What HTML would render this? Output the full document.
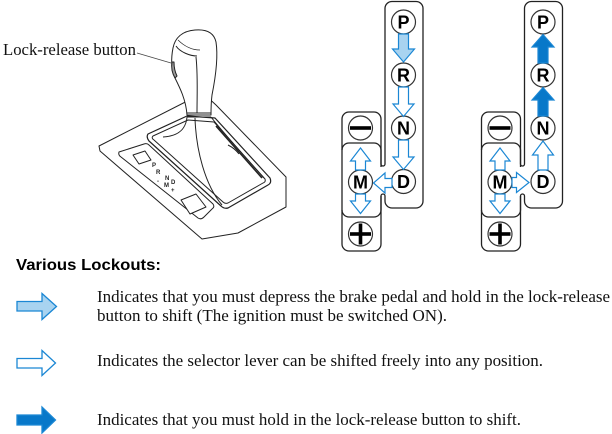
<!DOCTYPE html>
<html><head><meta charset="utf-8"><style>
html,body{margin:0;padding:0;background:#fff;}
svg{display:block;}
.serif{font-family:"Liberation Serif",serif;font-size:16.5px;fill:#111;}
.lt{font-family:"Liberation Sans",sans-serif;font-weight:bold;font-size:18px;fill:#000;}
</style></head><body>
<svg width="612" height="434" viewBox="0 0 612 434" xmlns="http://www.w3.org/2000/svg">
<!-- Shifter illustration -->
<g stroke="#222" stroke-width="1" fill="#fff" stroke-linejoin="round">
  <path d="M99,146 L203,93 L216,105 L286,177 L286,207 L238,233 L202,239 L100,151 Z"/>
  <path d="M119,152 L144,144 Q147,143 149,145 L213,204 Q215,207 212,209 L204,217 Q201,220 198,218 L121,157 Q118,155 119,152 Z"/>
  <path d="M133,155 L145,151 L151,160 L139,164 Z"/>
  <path d="M181,200 L196,194 L206,207 L190,214 Z"/>
  <path d="M148,134 L187,116 L215,118 L270,178 Q272,183 268,185 L228,208 Q224,209 221,206 L149,141 Q146,137 148,134 Z" stroke-width="1.2"/>
  <path d="M153,136 L188,120 L214,122 L265,179 Q266,182 263,183 L228,203 Q225,204 223,202 L154,140 Q151,138 153,136 Z" fill="none"/>
  <path d="M216,126 L262,178" fill="none" stroke-width="1.6"/>
  <path d="M187,117 C186,128 180,136 163,137" fill="none"/>
  <path d="M195,118 C196,150 205,185 222,205" fill="none"/>
  <path d="M211,117 C225,135 248,160 264,178" fill="none"/>
  <path d="M228,145 C232,147 236,150 239,154" fill="none"/>
  <path d="M187,115 C186,100 180,88 175,78 C171,70 171,58 173,48 C175,38 182,31 195,30 C207,29 214,33 216,42 C218,55 216,75 212,95 C211,103 211,108 211,115 Z"/>
  <path d="M176,46 C180,52 190,56 197,56" fill="none"/>
  <path d="M178,40 C184,46 192,50 200,50" fill="none" stroke-width="0.7"/>
  <path d="M196,57 C198,75 197,95 197,113" fill="none"/>
  <path d="M187,113 L211,113 M187,117 L211,117" fill="none"/>
  <path d="M172,62 C171,68 172,73 175,78 L177,76 C175,72 174,67 174,62 Z" fill="#9a9a9a"/>
</g>
<g font-family="Liberation Sans,sans-serif" font-weight="bold" font-size="6" fill="#222">
  <text x="152" y="167">P</text><text x="156" y="174">R</text><text x="165" y="180">N</text>
  <text x="157" y="183">-</text><text x="164" y="187">M</text><text x="171" y="184">D</text><text x="171" y="192">+</text>
</g>
<line x1="137" y1="53" x2="171" y2="63" stroke="#444" stroke-width="0.8"/>
<text x="3" y="55" class="serif" textLength="133" lengthAdjust="spacingAndGlyphs">Lock-release button</text>

<!-- Gate diagram 1 -->
<g>
  <g fill="none" stroke="#222" stroke-width="1.3">
    <path d="M385,164 V8 A7,7 0 0 1 392,1.5 H416 A7,7 0 0 1 423,8 V201 A7,7 0 0 1 416,208 H392 A7,7 0 0 1 385,201 V196 A2,2 0 0 0 381,196 V244 A7,7 0 0 1 374,251 H349 A7,7 0 0 1 342,244 V119 A7,7 0 0 1 349,112 H374 A7,7 0 0 1 381,119 V164 A2,2 0 0 0 385,164 Z"/>
    <path d="M381,167 V150 A7,7 0 0 0 374,143 H349 A7,7 0 0 0 342,150"/>
    <path d="M342,210 A7,7 0 0 0 349,217 H374 A7,7 0 0 0 381,210 V196"/>
  </g>
  <g fill="#fff" stroke="#333" stroke-width="1.2">
    <circle cx="403.5" cy="22" r="12"/><circle cx="403.5" cy="75" r="12"/>
    <circle cx="403.5" cy="128" r="12"/><circle cx="403.5" cy="181.5" r="12"/>
    <circle cx="360.5" cy="182" r="12"/><circle cx="360.5" cy="128" r="12"/>
    <circle cx="360.5" cy="234" r="12"/>
  </g>
  <g fill="#000">
    <rect x="350" y="126.2" width="21" height="3.6"/>
    <rect x="350" y="232.2" width="21" height="3.6"/>
    <rect x="358.7" y="223.5" width="3.6" height="21"/>
  </g>
  <g text-anchor="middle">
    <text x="403.5" y="28.5" class="lt">P</text><text x="403.5" y="81.5" class="lt">R</text>
    <text x="403.5" y="134.5" class="lt">N</text><text x="403.5" y="188" class="lt">D</text>
    <text x="360.5" y="188.5" class="lt">M</text>
  </g>
</g>
<g stroke="#1b87d4" stroke-width="1.2" stroke-linejoin="miter">
  <polygon fill="#a8d3f0" points="398.5,34 408.5,34 408.5,49 414.5,49 403.5,62 392.5,49 398.5,49"/>
  <polygon fill="#fff" points="398.5,87 408.5,87 408.5,104 414,104 403.5,116.5 393,104 398.5,104"/>
  <polygon fill="#fff" points="398.5,140 408.5,140 408.5,157 414,157 403.5,169.5 393,157 398.5,157"/>
  <polygon fill="#fff" points="392,178.5 392,187.5 385,187.5 385,193 373.5,183 385,173 385,178.5"/>
  <polygon fill="#fff" points="355.5,170 365.5,170 365.5,161 370.5,161 360.5,148 350.5,161 355.5,161"/>
  <polygon fill="#fff" points="355.5,194 365.5,194 365.5,201 370.5,201 360.5,213.5 350.5,201 355.5,201"/>
</g>

<!-- Gate diagram 2 -->
<g transform="translate(139.5,0)">
  <g fill="none" stroke="#222" stroke-width="1.3">
    <path d="M385,164 V8 A7,7 0 0 1 392,1.5 H416 A7,7 0 0 1 423,8 V201 A7,7 0 0 1 416,208 H392 A7,7 0 0 1 385,201 V196 A2,2 0 0 0 381,196 V244 A7,7 0 0 1 374,251 H349 A7,7 0 0 1 342,244 V119 A7,7 0 0 1 349,112 H374 A7,7 0 0 1 381,119 V164 A2,2 0 0 0 385,164 Z"/>
    <path d="M381,167 V150 A7,7 0 0 0 374,143 H349 A7,7 0 0 0 342,150"/>
    <path d="M342,210 A7,7 0 0 0 349,217 H374 A7,7 0 0 0 381,210 V196"/>
  </g>
  <g fill="#fff" stroke="#333" stroke-width="1.2">
    <circle cx="403.5" cy="22" r="12"/><circle cx="403.5" cy="75" r="12"/>
    <circle cx="403.5" cy="128" r="12"/><circle cx="403.5" cy="181.5" r="12"/>
    <circle cx="360.5" cy="182" r="12"/><circle cx="360.5" cy="128" r="12"/>
    <circle cx="360.5" cy="234" r="12"/>
  </g>
  <g fill="#000">
    <rect x="350" y="126.2" width="21" height="3.6"/>
    <rect x="350" y="232.2" width="21" height="3.6"/>
    <rect x="358.7" y="223.5" width="3.6" height="21"/>
  </g>
  <g text-anchor="middle">
    <text x="403.5" y="28.5" class="lt">P</text><text x="403.5" y="81.5" class="lt">R</text>
    <text x="403.5" y="134.5" class="lt">N</text><text x="403.5" y="188" class="lt">D</text>
    <text x="360.5" y="188.5" class="lt">M</text>
  </g>
  <g stroke="#1b87d4" stroke-width="1.2">
    <polygon fill="#0878c9" points="403.5,34.5 414.5,47 408.5,47 408.5,63 398.5,63 398.5,47 392.5,47"/>
    <polygon fill="#0878c9" points="403.5,87.5 414.5,100 408.5,100 408.5,116 398.5,116 398.5,100 392.5,100"/>
    <polygon fill="#fff" points="403.5,141 414,155 408.5,155 408.5,170 398.5,170 398.5,155 393,155"/>
    <polygon fill="#fff" points="372.5,177.5 377,177.5 377,172.5 389.5,182.5 377,192.5 377,187.5 372.5,187.5"/>
    <polygon fill="#fff" points="355.5,170 365.5,170 365.5,161 370.5,161 360.5,148 350.5,161 355.5,161"/>
    <polygon fill="#fff" points="355.5,194 365.5,194 365.5,201 370.5,201 360.5,213.5 350.5,201 355.5,201"/>
  </g>
</g>

<!-- Legend -->
<text x="16" y="270" font-family="Liberation Sans,sans-serif" font-weight="bold" font-size="16" fill="#000" textLength="145" lengthAdjust="spacingAndGlyphs">Various Lockouts:</text>
<g stroke="#1b87d4" stroke-width="1.3">
  <polygon fill="#a8d3f0" points="17,301.5 42,301.5 42,293.5 56.5,306.5 42,319.5 42,311 17,311"/>
  <polygon fill="#fff" points="17,358.5 42,358.5 42,350.5 55.5,363 42,375.5 42,368 17,368"/>
  <polygon fill="#0878c9" points="17,415 42,415 42,407 55.5,420 42,433 42,425 17,425"/>
</g>
<text x="97" y="302" class="serif" textLength="513" lengthAdjust="spacingAndGlyphs">Indicates that you must depress the brake pedal and hold in the lock-release</text>
<text x="97" y="321" class="serif" textLength="350" lengthAdjust="spacingAndGlyphs">button to shift (The ignition must be switched ON).</text>
<text x="97" y="366" class="serif" textLength="446" lengthAdjust="spacingAndGlyphs">Indicates the selector lever can be shifted freely into any position.</text>
<text x="97" y="425" class="serif" textLength="424" lengthAdjust="spacingAndGlyphs">Indicates that you must hold in the lock-release button to shift.</text>
</svg>
</body></html>
